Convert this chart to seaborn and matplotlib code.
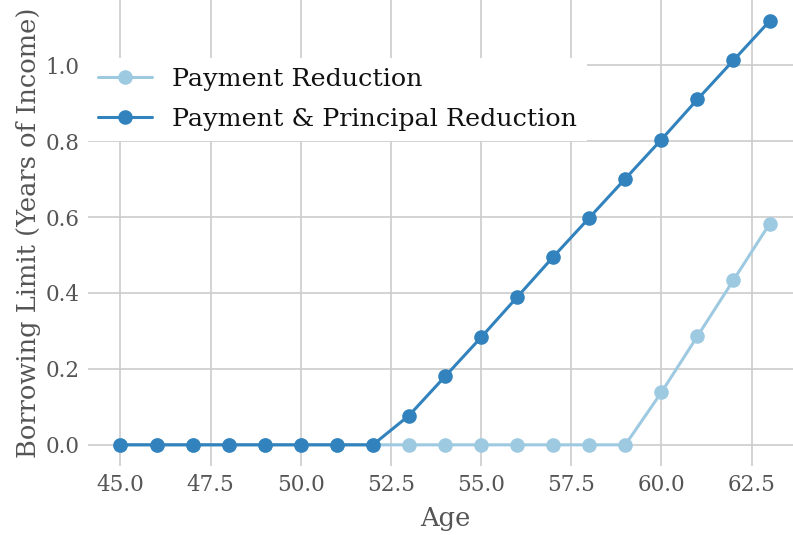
import matplotlib
matplotlib.use("Agg")
import matplotlib.pyplot as plt
import seaborn as sns
import pandas as pd

ages = list(range(45, 64))
payment_reduction = [0.0]*15 + [0.138, 0.286, 0.434, 0.582]
payment_principal = [0.0]*8 + [0.077, 0.180, 0.283, 0.389, 0.495, 0.598, 0.701, 0.804, 0.910, 1.013, 1.116]
series_names = ["Payment Reduction", "Payment & Principal Reduction"]
colors = ["#9ecae1", "#3182bd"]

df = pd.concat([
    pd.DataFrame({"Age": ages, "value": payment_reduction, "series": series_names[0]}),
    pd.DataFrame({"Age": ages, "value": payment_principal, "series": series_names[1]}),
])

sns.set_theme(style="whitegrid")
plt.rcParams["font.family"] = ["DejaVu Serif"]
txt = "#555555"

fig = plt.figure(figsize=(7.93, 5.35), dpi=100)
ax = fig.add_axes([88/793, 69/535, (802-88)/793, 466/535])
sns.lineplot(data=df, x="Age", y="value", hue="series", hue_order=series_names,
             palette=colors, marker="o", markersize=10.5, markeredgewidth=0,
             linewidth=2.2, ax=ax)
for s in ax.spines.values():
    s.set_visible(False)
ax.grid(True, color="#cccccc", linewidth=1.2)
ax.set_xlabel("Age", fontsize=18.5, color=txt, labelpad=7)
ax.set_ylabel("Borrowing Limit (Years of Income)", fontsize=18.5, color=txt, labelpad=3)
ax.tick_params(axis="both", labelsize=15.5, labelcolor=txt, length=0, pad=6)
leg = ax.legend(loc="upper left", bbox_to_anchor=(0.0, 0.876), fontsize=18.3,
                frameon=True, facecolor="white", edgecolor="none", framealpha=1,
                borderaxespad=0.0, fancybox=False, handlelength=2.1,
                labelspacing=0.66)
for t in leg.get_texts():
    t.set_color("#111111")
fig.savefig("out.png", dpi=100)
